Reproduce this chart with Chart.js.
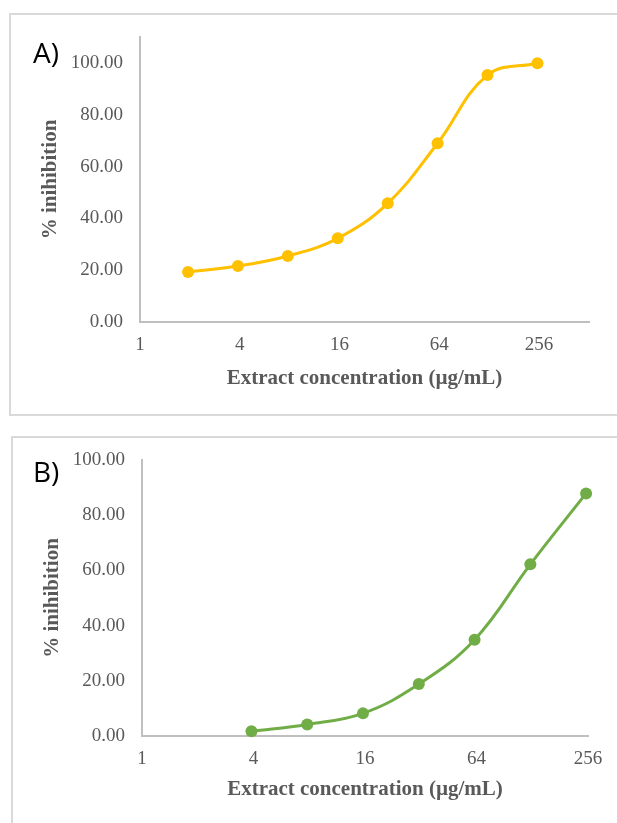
<!DOCTYPE html>
<html>
<head>
<meta charset="utf-8">
<script src="https://cdn.jsdelivr.net/npm/chart.js@4"></script>
<style>
  html, body { margin: 0; padding: 0; background: #ffffff; }
  body { width: 617px; height: 823px; position: relative; overflow: hidden; }
  .frame { position: absolute; box-sizing: border-box; border: 2px solid #d9d9d9; background: transparent; }
  .holder { position: absolute; left: 0; }
</style>
</head>
<body>
<div class="frame" style="left:9px; top:13px; width:640px; height:403px;"></div>
<div class="frame" style="left:11px; top:436px; width:640px; height:420px;"></div>
<div class="holder" style="top:0px; width:617px; height:420px;"><canvas id="chartA"></canvas></div>
<div class="holder" style="top:420px; width:617px; height:403px;"><canvas id="chartB"></canvas></div>
<script>
// ---- data ----
const concA = [1.95, 3.9, 7.8, 15.6, 31.25, 62.5, 125, 250];
const inhibitionA = [19.3, 21.6, 25.5, 32.3, 45.8, 69.0, 95.3, 99.9];
const concB = [3.9, 7.8, 15.6, 31.25, 62.5, 125, 250];
const inhibitionB = [1.7, 4.2, 8.2, 18.8, 34.9, 62.2, 87.9];
const xTickValues = [1, 4, 16, 64, 256];
const yTickValues = [0, 20, 40, 60, 80, 100];
const xTitle = 'Extract concentration (µg/mL)';
const yTitle = '% inihibition';
const panelLabels = ['A)', 'B)'];

const serif = "'Liberation Serif', 'Times New Roman', serif";
const gray = '#595959';
const axisGray = '#bfbfbf';

function panelLabelPlugin(text, x, y) {
  return {
    id: 'panelLabel',
    afterDraw(chart) {
      const ctx = chart.ctx;
      ctx.save();
      ctx.fillStyle = '#000000';
      ctx.font = "28px 'Open Sans', 'Noto Sans', sans-serif";
      ctx.textAlign = 'left';
      ctx.textBaseline = 'alphabetic';
      ctx.fillText(text, x, y);
      ctx.restore();
    }
  };
}

function makeChart(id, xs, ys, color, cfg) {
  const points = xs.map((x, i) => ({ x: x, y: ys[i] }));
  return new Chart(document.getElementById(id), {
    type: 'line',
    data: {
      datasets: [{
        data: points,
        borderColor: color,
        backgroundColor: color,
        borderWidth: 3,
        pointRadius: 6,
        pointHoverRadius: 6,
        pointBorderWidth: 0,
        tension: 0.4,
        fill: false,
        clip: false
      }]
    },
    options: {
      responsive: true,
      maintainAspectRatio: false,
      animation: false,
      events: [],
      layout: { padding: { left: 0, right: cfg.padRight, top: cfg.padTop, bottom: 0 } },
      plugins: { legend: { display: false }, tooltip: { enabled: false } },
      scales: {
        x: {
          type: 'logarithmic',
          min: 1,
          max: cfg.xMax,
          afterBuildTicks(scale) { scale.ticks = xTickValues.map(v => ({ value: v })); },
          afterFit(scale) { scale.height = cfg.xHeight; },
          grid: { display: false, drawTicks: false },
          border: { display: true, color: axisGray, width: 2 },
          ticks: {
            autoSkip: false,
            maxRotation: 0,
            padding: cfg.xTickPad,
            color: gray,
            font: { family: serif, size: 19 },
            callback: (v) => String(v)
          },
          title: {
            display: true,
            text: xTitle,
            color: gray,
            font: { family: serif, size: 21, weight: 'bold' },
            padding: { top: 0, bottom: cfg.xTitlePad }
          }
        },
        y: {
          type: 'linear',
          min: 0,
          max: cfg.yMax,
          afterBuildTicks(scale) { scale.ticks = yTickValues.map(v => ({ value: v })); },
          afterFit(scale) { scale.width = cfg.yWidth; },
          grid: { display: false, drawTicks: false },
          border: { display: true, color: axisGray, width: 2 },
          ticks: {
            padding: 17,
            color: gray,
            font: { family: serif, size: 19 },
            callback: (v) => Number(v).toFixed(2)
          },
          title: {
            display: true,
            text: yTitle,
            color: gray,
            font: { family: serif, size: 21, weight: 'bold' },
            padding: { top: cfg.yTitlePad, bottom: 0 }
          }
        }
      }
    },
    plugins: [panelLabelPlugin(cfg.label, cfg.labelX, cfg.labelY)]
  });
}

makeChart('chartA', concA, inhibitionA, '#FFC000', {
  xMax: 512, yMax: 110,
  padRight: 28, padTop: 37,
  yWidth: 140, xHeight: 98,
  xTickPad: 12, xTitlePad: 29, yTitlePad: 38,
  label: panelLabels[0], labelX: 33, labelY: 63
});

makeChart('chartB', concB, inhibitionB, '#70AD47', {
  xMax: 256, yMax: 100,
  padRight: 29, padTop: 40,
  yWidth: 142, xHeight: 87,
  xTickPad: 12, xTitlePad: 21, yTitlePad: 40,
  label: panelLabels[1], labelX: 33, labelY: 62
});
</script>
</body>
</html>
